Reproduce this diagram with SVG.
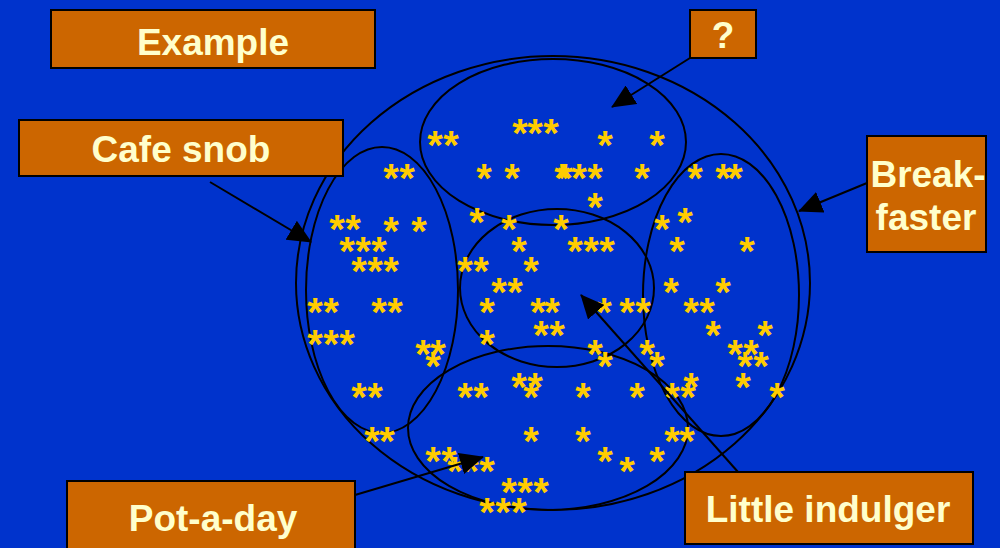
<svg xmlns="http://www.w3.org/2000/svg" width="1000" height="548" viewBox="0 0 1000 548">
<style>
.bg{fill:#0033CC}
.box{fill:#CC6600;stroke:#000;stroke-width:2}
.lbl{font-family:"Liberation Sans",Arial,sans-serif;font-weight:bold;font-size:37px;fill:#FFFFCC;text-anchor:middle}
.reg{fill:none;stroke:#000;stroke-width:2}
.st{font-family:"Liberation Sans",Arial,sans-serif;font-weight:bold;font-size:40px;fill:#FFCC00;text-anchor:middle}
.con{stroke:#000;stroke-width:2;fill:none;marker-end:url(#ah)}
</style>
<defs>
<marker id="ah" markerUnits="userSpaceOnUse" markerWidth="24" markerHeight="22" refX="23" refY="11" orient="auto">
<path d="M0,0 L24,11 L0,22 z" fill="#000"/>
</marker>
</defs>
<rect class="bg" x="0" y="0" width="1000" height="548"/>
<g id="regions">
<ellipse id="market" class="reg" cx="553" cy="283" rx="257" ry="227"/>
<ellipse id="region-unknown" class="reg" cx="553" cy="142" rx="133" ry="83"/>
<ellipse id="region-cafe-snob" class="reg" cx="382" cy="290" rx="76" ry="143"/>
<ellipse id="region-little-indulger" class="reg" cx="557" cy="288" rx="97" ry="79"/>
<ellipse id="region-breakfaster" class="reg" cx="721" cy="295" rx="78" ry="141"/>
<ellipse id="region-pot-a-day" class="reg" cx="548" cy="428" rx="140" ry="82"/>
</g>
<g id="stars" class="st">
<text x="520 535 551" y="147">***</text>
<text x="435 451 605 657" y="159">****</text>
<text x="391 407 484 512 562 565 579 595 642 695 723 735" y="192">************</text>
<text x="595" y="221">*</text>
<text x="477 685" y="236">**</text>
<text x="337 353 509 561 662" y="243">*****</text>
<text x="391 419" y="245">**</text>
<text x="347 363 379 519 575 591 607 677 747" y="265">*********</text>
<text x="359 375 391 531 465 481" y="285">******</text>
<text x="499 515 671 723" y="306">****</text>
<text x="315 331 379 395 487 538 552 604 627 643 691 707" y="326">************</text>
<text x="541 557 713 765" y="349">****</text>
<text x="315 331 347 487" y="358">****</text>
<text x="423 438 595 647 735 751" y="368">******</text>
<text x="433 605 657 745 761" y="380">*****</text>
<text x="519 535 691 743" y="401">****</text>
<text x="359 375 465 481 531 583 637 672 688 777" y="411">**********</text>
<text x="372 387 531 583 672 687" y="455">******</text>
<text x="433 449 605 657" y="475">****</text>
<text x="455 471 487 627" y="485">****</text>
<text x="509 525 541" y="506">***</text>
<text x="487 503 519" y="526">***</text>
</g>
<g id="connectors">
<line class="con" x1="690" y1="58" x2="612" y2="107"/>
<line class="con" x1="867" y1="183" x2="799" y2="211"/>
<line class="con" x1="210" y1="182" x2="311" y2="242"/>
<line class="con" x1="355" y1="495" x2="483" y2="457"/>
<line class="con" x1="738" y1="472" x2="581" y2="295"/>
</g>
<g id="example">
<rect class="box" x="51" y="10" width="324" height="58"/>
<text class="lbl" x="213" y="55">Example</text>
</g>
<g id="unknown">
<rect class="box" x="690" y="10" width="66" height="48"/>
<text class="lbl" x="723" y="48">?</text>
</g>
<g id="cafe-snob">
<rect class="box" x="19" y="120" width="324" height="56"/>
<text class="lbl" x="181" y="162">Cafe snob</text>
</g>
<g id="breakfaster">
<rect class="box" x="867" y="136" width="119" height="116"/>
<text class="lbl" x="928" y="187">Break-</text>
<text class="lbl" x="926" y="230">faster</text>
</g>
<g id="pot-a-day">
<rect class="box" x="67" y="481" width="288" height="80"/>
<text class="lbl" x="213" y="531">Pot-a-day</text>
</g>
<g id="little-indulger">
<rect class="box" x="685" y="472" width="288" height="72"/>
<text class="lbl" x="828" y="522">Little indulger</text>
</g>
</svg>
